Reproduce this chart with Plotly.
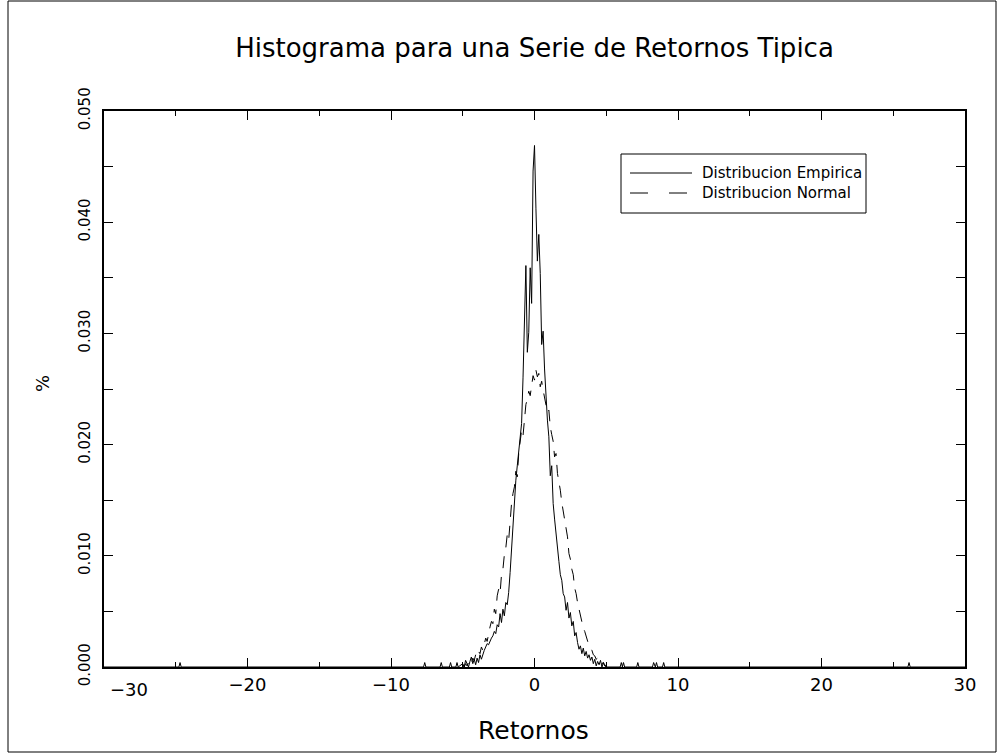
import plotly.graph_objects as go

# ---------------- data ----------------
bin_x = [round(-5.0 + 0.1 * i, 1) for i in range(101)]  # bin centres

empirica = [
    0.0003, 0.0000, 0.0006, 0.0002, 0.0000, 0.0005, 0.0009, 0.0003, 0.0007, 0.0002,
    0.0008, 0.0004, 0.0011, 0.0007, 0.0012, 0.0015, 0.0018, 0.0021, 0.0020, 0.0024,
    0.0026, 0.0028, 0.0032, 0.0030, 0.0038, 0.0036, 0.0048, 0.0040, 0.0052, 0.0046,
    0.0058, 0.0056, 0.0067, 0.0085, 0.0108, 0.0127, 0.0149, 0.0168, 0.0181, 0.0196,
    0.0207, 0.0219, 0.0260, 0.0312, 0.0361, 0.0283, 0.0301, 0.0359, 0.0327, 0.0446,
    0.0469, 0.0412, 0.0365, 0.0389, 0.0354, 0.0290, 0.0302, 0.0268, 0.0238, 0.0222,
    0.0207, 0.0172, 0.0181, 0.0147, 0.0133, 0.0118, 0.0106, 0.0095, 0.0083, 0.0078,
    0.0066, 0.0063, 0.0051, 0.0058, 0.0044, 0.0049, 0.0037, 0.0041, 0.0028, 0.0031,
    0.0022, 0.0016, 0.0019, 0.0012, 0.0017, 0.0010, 0.0014, 0.0008, 0.0011, 0.0006,
    0.0009, 0.0003, 0.0007, 0.0001, 0.0005, 0.0002, 0.0006, 0.0000, 0.0004, 0.0001,
    0.0000,
]

normal = [
    0.0002, 0.0000, 0.0003, 0.0001, 0.0004, 0.0006, 0.0003, 0.0008, 0.0006, 0.0011,
    0.0009, 0.0014, 0.0012, 0.0018, 0.0015, 0.0021, 0.0026, 0.0023, 0.0031, 0.0036,
    0.0041, 0.0039, 0.0052, 0.0048, 0.0064, 0.0070, 0.0066, 0.0083, 0.0088, 0.0101,
    0.0107, 0.0119, 0.0114, 0.0133, 0.0147, 0.0156, 0.0162, 0.0176, 0.0171, 0.0192,
    0.0201, 0.0213, 0.0208, 0.0226, 0.0236, 0.0241, 0.0248, 0.0244, 0.0256, 0.0262,
    0.0258, 0.0267, 0.0261, 0.0264, 0.0252, 0.0257, 0.0249, 0.0243, 0.0238, 0.0229,
    0.0231, 0.0216, 0.0209, 0.0203, 0.0189, 0.0192, 0.0174, 0.0168, 0.0159, 0.0148,
    0.0141, 0.0133, 0.0124, 0.0117, 0.0102, 0.0097, 0.0088, 0.0083, 0.0071, 0.0066,
    0.0058, 0.0052, 0.0046, 0.0041, 0.0035, 0.0032, 0.0027, 0.0024, 0.0019, 0.0017,
    0.0015, 0.0011, 0.0010, 0.0007, 0.0008, 0.0005, 0.0006, 0.0003, 0.0004, 0.0001,
    0.0002,
]

# isolated extreme returns (single observations) outside the central block
outlier_x = [-24.7, -7.65, -6.5, -5.85, -5.4, 6.05, 6.2, 7.2, 8.3, 8.5, 9.0, 26.1]
outlier_y = [0.0004, 0.0004, 0.0004, 0.0004, 0.0004, 0.0004, 0.0004, 0.0004, 0.0004, 0.0004, 0.0004, 0.0004]

x_ticks = [-30, -20, -10, 0, 10, 20, 30]
x_ticktext = ["\u221230", "\u221220", "\u221210", "0", "10", "20", "30"]
y_ticks = [0.0, 0.01, 0.02, 0.03, 0.04, 0.05]
y_ticktext = ["0.000", "0.010", "0.020", "0.030", "0.040", "0.050"]

title_text = "Histograma para una Serie de Retornos Tipica"
xlabel = "Retornos"
ylabel = "%"
legend_names = ["Distribucion Empirica", "Distribucion Normal"]

# ------------- build empirical series (with isolated spikes) -------------
points = [(-30.0, 0.0)]
left_out = [(x, y) for x, y in zip(outlier_x, outlier_y) if x < bin_x[0]]
right_out = [(x, y) for x, y in zip(outlier_x, outlier_y) if x > bin_x[-1]]
for x, y in left_out:
    points += [(x - 0.08, 0.0), (x, y), (x + 0.08, 0.0)]
points += list(zip(bin_x, empirica))
for x, y in right_out:
    points += [(x - 0.08, 0.0), (x, y), (x + 0.08, 0.0)]
points.append((30.0, 0.0))
emp_x = [p[0] for p in points]
emp_y = [p[1] for p in points]

# ---------------- layout geometry ----------------
W, H = 998, 753
L, R, T, B = 104, 33, 111, 86
PW, PH = W - L - R, H - T - B


def px(x):
    return (x - L) / PW


def py(y):
    return (H - B - y) / PH


FONT = "DejaVu Sans"

fig = go.Figure()
fig.add_trace(go.Scatter(x=emp_x, y=emp_y, mode="lines",
                         line=dict(color="black", width=1),
                         name=legend_names[0], showlegend=False))
fig.add_trace(go.Scatter(x=bin_x, y=normal, mode="lines",
                         line=dict(color="black", width=1, dash="12px,9px"),
                         name=legend_names[1], showlegend=False))

fig.update_layout(
    width=W, height=H,
    margin=dict(l=L, r=R, t=T, b=B),
    paper_bgcolor="white", plot_bgcolor="white",
    font=dict(family=FONT, color="black"),
    title=dict(text=title_text, x=0.5, xref="paper", xanchor="center",
               y=1 - 48 / H, yref="container", yanchor="middle",
               font=dict(size=26, family=FONT, color="black")),
    showlegend=False,
)

# first x label drawn separately (it is shifted inwards in the original)
x_ticktext_axis = [""] + x_ticktext[1:]

fig.update_xaxes(
    range=[-30, 30], showgrid=False, zeroline=False,
    showline=True, linecolor="black", linewidth=2, mirror="allticks",
    ticks="inside", ticklen=9, tickwidth=1, tickcolor="black",
    tickvals=x_ticks, ticktext=x_ticktext_axis,
    tickfont=dict(size=18, family=FONT, color="black"),
    minor=dict(dtick=5, tick0=0, ticks="inside", ticklen=5, tickcolor="black", tickwidth=1),
)
fig.update_yaxes(
    range=[0, 0.05], showgrid=False, zeroline=False,
    showline=True, linecolor="black", linewidth=2, mirror="allticks",
    ticks="inside", ticklen=9, tickwidth=1, tickcolor="black",
    tickvals=y_ticks, ticktext=y_ticktext, tickangle=-90,
    ticklabelstandoff=6,
    tickfont=dict(size=15, family=FONT, color="black"),
    minor=dict(dtick=0.005, tick0=0, ticks="inside", ticklen=9, tickcolor="black", tickwidth=1),
)

shapes = [
    # outer frame of the picture
    dict(type="rect", xref="paper", yref="paper",
         x0=px(8), x1=px(996), y0=py(752), y1=py(1),
         line=dict(color="black", width=1)),
    # legend box
    dict(type="rect", xref="paper", yref="paper",
         x0=px(621), x1=px(866), y0=py(213), y1=py(154),
         line=dict(color="black", width=1), fillcolor="white"),
    dict(type="line", xref="paper", yref="paper",
         x0=px(630), x1=px(692), y0=py(173), y1=py(173),
         line=dict(color="black", width=1)),
    dict(type="line", xref="paper", yref="paper",
         x0=px(630), x1=px(692), y0=py(193), y1=py(193),
         line=dict(color="black", width=1, dash="18px,21px")),
]
fig.update_layout(shapes=shapes)

annotations = [
    dict(text=legend_names[0], xref="paper", yref="paper", x=px(700), y=py(173),
         xanchor="left", yanchor="middle", showarrow=False,
         font=dict(size=15, family=FONT, color="black")),
    dict(text=legend_names[1], xref="paper", yref="paper", x=px(700), y=py(193),
         xanchor="left", yanchor="middle", showarrow=False,
         font=dict(size=15, family=FONT, color="black")),
    dict(text=x_ticktext[0], xref="paper", yref="paper", x=px(129), y=py(689),
         xanchor="center", yanchor="middle", showarrow=False,
         font=dict(size=18, family=FONT, color="black")),
    dict(text=xlabel, xref="paper", yref="paper", x=px(533), y=py(730),
         xanchor="center", yanchor="middle", showarrow=False,
         font=dict(size=25, family=FONT, color="black")),
    dict(text=ylabel, xref="paper", yref="paper", x=px(42), y=py(383),
         xanchor="center", yanchor="middle", showarrow=False, textangle=-90,
         font=dict(size=18, family=FONT, color="black")),
]
fig.update_layout(annotations=annotations)

fig.write_html("out.html")
